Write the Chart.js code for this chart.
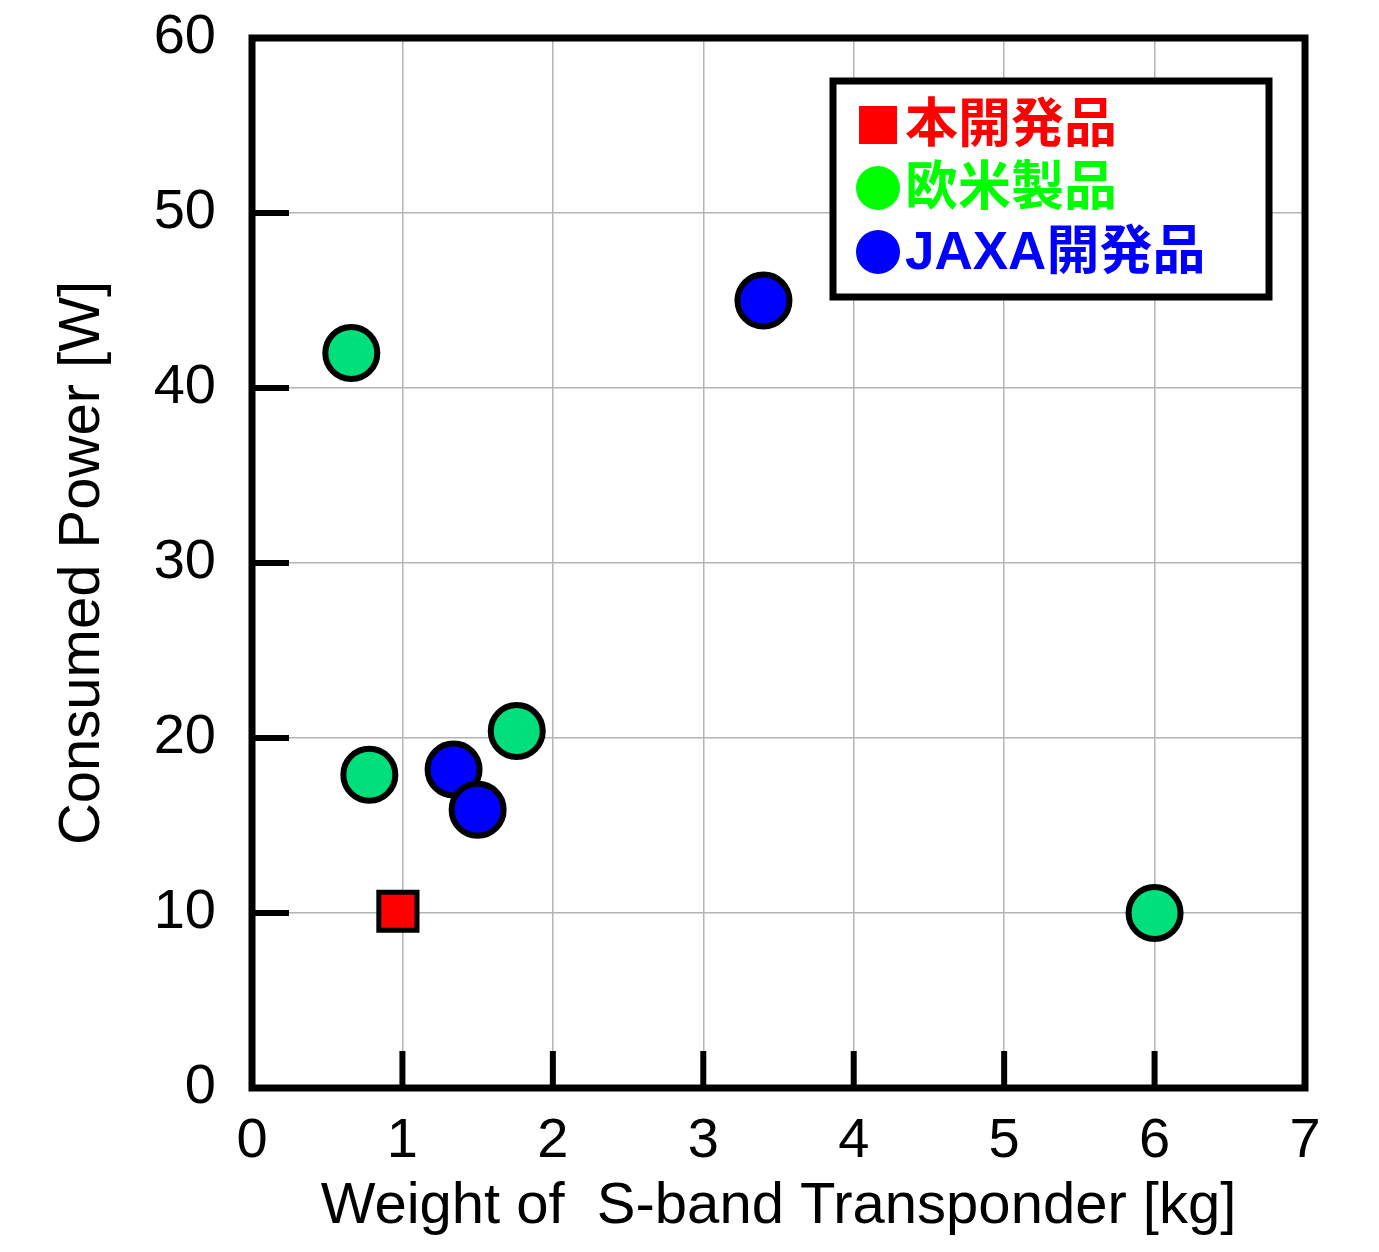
<!DOCTYPE html>
<html>
<head>
<meta charset="utf-8">
<script src="https://cdn.jsdelivr.net/npm/chart.js@4.4.0/dist/chart.umd.min.js"></script>
<style>
  html, body { margin: 0; padding: 0; background: #fff; }
  #wrap { width: 1379px; height: 1252px; }
</style>
</head>
<body>
<div id="wrap"><canvas id="chart" width="1379" height="1252"></canvas></div>
<script>
// series labels
const seriesLabels = ['本開発品', '欧米製品', 'JAXA開発品'];

// 本開発品 (this development)
const ownX = [0.97];
const ownY = [10.1];

// 欧米製品 (western products)
const westX = [0.66, 0.78, 1.76, 6.0];
const westY = [42.0, 17.9, 20.4, 10.0];

// JAXA開発品
const jaxaX = [3.40, 1.34, 1.50];
const jaxaY = [45.0, 18.2, 15.9];

// axis ticks
const xTicks = [0, 1, 2, 3, 4, 5, 6, 7];
const yTicks = [0, 10, 20, 30, 40, 50, 60];

const toPoints = (xs, ys) => xs.map((x, i) => ({ x: x, y: ys[i] }));

const legendColors = ['#ff0000', '#00ff00', '#0000ff'];

// frame + inward tick marks
const framePlugin = {
    id: 'frame',
    afterDraw(chart) {
        const ctx = chart.ctx;
        const a = chart.chartArea;
        const xs = chart.scales.x, ys = chart.scales.y;
        ctx.save();
        ctx.strokeStyle = '#000';
        ctx.lineWidth = 6;
        ctx.lineCap = 'butt';
        xTicks.slice(1, -1).forEach(v => {
            const px = xs.getPixelForValue(v);
            ctx.beginPath();
            ctx.moveTo(px, a.bottom);
            ctx.lineTo(px, a.bottom - 37);
            ctx.stroke();
        });
        yTicks.slice(1, -1).forEach(v => {
            const py = ys.getPixelForValue(v);
            ctx.beginPath();
            ctx.moveTo(a.left, py);
            ctx.lineTo(a.left + 37, py);
            ctx.stroke();
        });
        ctx.lineWidth = 7;
        ctx.strokeRect(a.left, a.top, a.right - a.left, a.bottom - a.top);
        ctx.restore();
    }
};

// legend box drawn inside the plot
const legendPlugin = {
    id: 'boxLegend',
    afterDraw(chart) {
        const ctx = chart.ctx;
        const bx = 833, by = 81, bw = 436, bh = 216;
        ctx.save();
        ctx.fillStyle = '#fff';
        ctx.fillRect(bx, by, bw, bh);
        ctx.strokeStyle = '#000';
        ctx.lineWidth = 7;
        ctx.strokeRect(bx, by, bw, bh);
        ctx.font = 'bold 53px "Liberation Sans", "Noto Sans CJK JP", sans-serif';
        ctx.textBaseline = 'middle';
        ctx.textAlign = 'left';
        const rows = [125, 188, 252];
        chart.data.datasets.forEach((ds, i) => {
            const cy = rows[i];
            ctx.fillStyle = legendColors[i];
            if (i === 0) {
                ctx.fillRect(859, cy - 19, 38, 38);
            } else {
                ctx.beginPath();
                ctx.arc(878, cy, 22, 0, Math.PI * 2);
                ctx.fill();
            }
            ctx.fillText(ds.label, 905, cy + 2);
        });
        ctx.restore();
    }
};

const ctx = document.getElementById('chart').getContext('2d');
new Chart(ctx, {
    type: 'scatter',
    data: {
        datasets: [
            {
                label: seriesLabels[0],
                data: toPoints(ownX, ownY),
                pointStyle: 'rect',
                pointRadius: 27,
                pointHoverRadius: 27,
                backgroundColor: '#ff0000',
                borderColor: '#000',
                borderWidth: 5
            },
            {
                label: seriesLabels[1],
                data: toPoints(westX, westY),
                pointStyle: 'circle',
                pointRadius: 26,
                pointHoverRadius: 26,
                backgroundColor: '#00df7a',
                borderColor: '#000',
                borderWidth: 6
            },
            {
                label: seriesLabels[2],
                data: toPoints(jaxaX, jaxaY),
                pointStyle: 'circle',
                pointRadius: 26,
                pointHoverRadius: 26,
                backgroundColor: '#0000ff',
                borderColor: '#000',
                borderWidth: 6
            }
        ]
    },
    options: {
        responsive: false,
        animation: false,
        layout: { padding: { top: 38, right: 74, left: 0, bottom: 0 } },
        plugins: {
            legend: { display: false },
            tooltip: { enabled: false }
        },
        scales: {
            x: {
                type: 'linear',
                min: 0,
                max: 7,
                afterFit(scale) {
                    scale.height = 164;
                    scale.paddingLeft = 0;
                    scale.paddingRight = 0;
                },
                afterBuildTicks(scale) { scale.ticks = xTicks.map(v => ({ value: v })); },
                ticks: {
                    color: '#000',
                    padding: 20,
                    font: { family: '"Liberation Sans", Arial, sans-serif', size: 56 }
                },
                grid: { color: '#b4b4b4', lineWidth: 1.5, drawTicks: false },
                border: { display: false },
                title: {
                    display: true,
                    text: 'Weight of  S-band Transponder [kg]',
                    color: '#000',
                    padding: { top: 0, bottom: 10 },
                    font: { family: '"Liberation Sans", Arial, sans-serif', size: 58 }
                }
            },
            y: {
                type: 'linear',
                min: 0,
                max: 60,
                afterFit(scale) {
                    scale.width = 252;
                    scale.paddingTop = 0;
                    scale.paddingBottom = 0;
                },
                afterBuildTicks(scale) { scale.ticks = yTicks.map(v => ({ value: v })); },
                ticks: {
                    color: '#000',
                    padding: 36,
                    font: { family: '"Liberation Sans", Arial, sans-serif', size: 56 }
                },
                grid: { color: '#b4b4b4', lineWidth: 1.5, drawTicks: false },
                border: { display: false },
                title: {
                    display: true,
                    text: 'Consumed Power [W]',
                    color: '#000',
                    padding: { top: 48, bottom: 0 },
                    font: { family: '"Liberation Sans", Arial, sans-serif', size: 58 }
                }
            }
        }
    },
    plugins: [framePlugin, legendPlugin]
});
</script>
</body>
</html>
